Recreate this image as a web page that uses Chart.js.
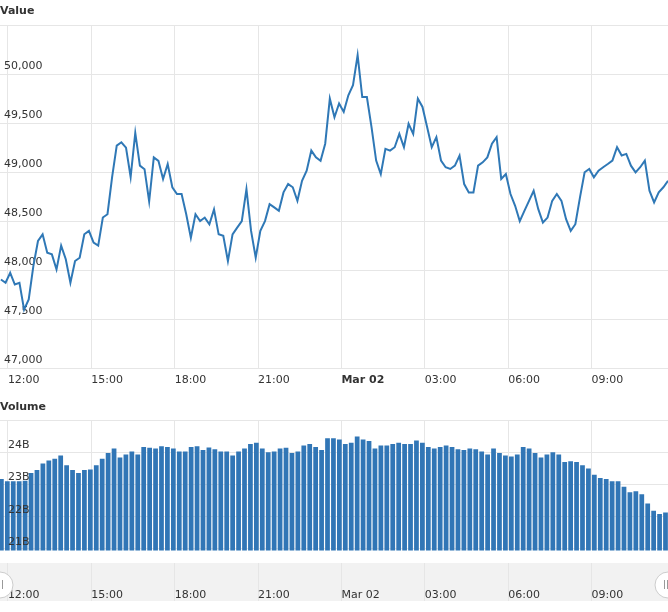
<!DOCTYPE html>
<html><head><meta charset="utf-8">
<script src="https://cdn.jsdelivr.net/npm/chart.js@4"></script>
<style>
body{margin:0;width:668px;height:612px;overflow:hidden;background:#fff;font-family:"DejaVu Sans",sans-serif}
.box{position:absolute;left:0;width:668px}
</style></head><body>
<div class="box" style="top:0;height:392px"><canvas id="c1"></canvas></div>
<div class="box" style="top:395px;height:170px"><canvas id="c2"></canvas></div>
<div class="box" style="top:563px;height:38px;background:#f2f2f2"><canvas id="c3"></canvas></div>
<script>
// minutes after 12:00 (Mar 01)
const priceStart = -15, priceStep = 10;
const priceValues = [47904,47870,47972,47852,47870,47596,47700,48040,48297,48365,48177,48160,48006,48250,48110,47870,48092,48126,48365,48400,48280,48250,48536,48570,48950,49270,49305,49250,48950,49400,49066,49030,48700,49150,49115,48930,49083,48845,48776,48776,48570,48330,48570,48500,48536,48468,48620,48365,48350,48092,48365,48433,48500,48827,48400,48126,48400,48500,48673,48640,48605,48793,48878,48845,48707,48912,49015,49220,49150,49115,49290,49750,49560,49700,49615,
49785,49887,50195,49767,49767,49460,49118,48980,49237,49220,49254,49390,49254,49494,49390,49750,49665,49460,49254,49357,49118,49050,49032,49066,49169,48878,48793,48793,49066,49100,49150,49290,49357,48930,48980,48776,48656,48500,48605,48707,48810,48622,48485,48536,48707,48776,48707,48520,48400,48468,48742,48998,49032,48947,49015,49050,49083,49118,49254,49169,49186,49066,48998,49050,49118,48810,48690,48793,48845,48912,49066];
const volumeStart = -14, volumeStep = 12.8;
const volumeValues = [23.17,23.1,23.1,23.1,23.12,23.36,23.45,23.65,23.75,23.8,23.9,23.6,23.45,23.36,23.45,23.47,23.6,23.8,23.98,24.12,23.84,23.93,24.03,23.93,24.17,24.14,24.12,24.19,24.17,24.12,24.03,24.03,24.17,24.19,24.07,24.15,24.1,24.03,24.03,23.9,24.03,24.12,24.26,24.3,24.12,24.0,24.03,24.12,24.14,23.98,24.03,24.21,24.26,24.17,24.07,24.44,24.44,24.4,24.26,24.3,24.49,24.4,24.35,24.12,24.21,24.21,24.26,24.3,24.26,24.26,24.37,24.3,24.17,24.12,24.17,24.21,24.17,24.1,24.07,24.12,24.1,24.03,23.93,24.12,23.98,23.9,23.87,23.93,24.17,24.12,23.98,23.84,23.93,24.0,23.93,23.7,23.72,23.7,23.6,23.5,23.3,23.2,23.17,23.1,23.1,22.93,22.76,22.79,22.7,22.41,22.18,22.08,22.13];
const tickMinutes = [0,180,360,540,720,900,1080,1260];
const tickLabels = ['12:00','15:00','18:00','21:00','Mar 02','03:00','06:00','09:00'];
const priceTicks = [47000,47500,48000,48500,49000,49500,50000,50500];
const volumeTicks = [21,22,23,24,25];

const priceData = priceValues.map((v,i)=>({x:priceStart+i*priceStep,y:v}));
const volumeData = volumeValues.map((v,i)=>({x:volumeStart+i*volumeStep,y:v}));
const FONT = "'DejaVu Sans', sans-serif";
const GRID = '#e6e6e6';
const XMIN=-17, XMAX=1425;
function xAxis(show, boldMar, tickLen){
  return {type:'linear',min:XMIN,max:XMAX,offset:false,
    afterBuildTicks:s=>{s.ticks=tickMinutes.map(v=>({value:v}));},
    grid:{color:GRID,drawTicks:!!tickLen,tickLength:tickLen||0,offset:false},border:{display:false},
    ticks:{display:show,align:'start',padding:tickLen?-12:6,color:'#333',
      font:c=>({family:FONT,size:11,weight:(boldMar&&c.index===4)?'bold':'normal'}),
      callback:(v,i)=>tickLabels[i]}};
}
Chart.defaults.animation=false;
Chart.defaults.font.family=FONT;
new Chart(document.getElementById('c1'),{
  type:'line',
  data:{datasets:[{data:priceData,borderColor:'#2f78b6',borderWidth:2,pointRadius:0,tension:0}]},
  options:{responsive:true,maintainAspectRatio:false,layout:{padding:0},
    plugins:{legend:{display:false},tooltip:{enabled:false},
      title:{display:true,text:'Value',align:'start',color:'#333',font:{size:11,weight:'bold'},padding:{top:5,bottom:7}}},
    scales:{
      x:Object.assign(xAxis(true,true,0),{afterFit:s=>{s.height=24;}}),
      y:{min:47000,max:50500,afterBuildTicks:s=>{s.ticks=priceTicks.map(v=>({value:v}));},
        afterFit:s=>{s.width=0;},
        grid:{color:GRID,drawTicks:false},border:{display:false},
        ticks:{mirror:true,padding:4,labelOffset:-8,color:'#333',font:{size:11},
          callback:v=>v===50500?'':v.toLocaleString('en-US')}}
    }}
});
new Chart(document.getElementById('c2'),{
  type:'bar',
  data:{datasets:[{data:volumeData,backgroundColor:'#3176b6',barPercentage:1,categoryPercentage:0.8}]},
  options:{responsive:true,maintainAspectRatio:false,layout:{padding:0},
    plugins:{legend:{display:false},tooltip:{enabled:false},
      title:{display:true,text:'Volume',align:'start',color:'#333',font:{size:11,weight:'bold'},padding:{top:6,bottom:6}}},
    scales:{
      x:Object.assign(xAxis(false,false,0),{afterFit:s=>{s.height=4;}}),
      y:{min:20.95,max:25,afterBuildTicks:s=>{s.ticks=volumeTicks.map(v=>({value:v}));},
        afterFit:s=>{s.width=0;},
        grid:{color:GRID,drawTicks:false},border:{display:false},
        ticks:{mirror:true,padding:8,labelOffset:-7,color:'#333',font:{size:11},z:1,
          callback:v=>v===25?'':v+'B'}}
    }}
});
const handles={id:'handles',afterDraw(c){const g=c.ctx;g.save();
  [0,668].forEach(x=>{g.beginPath();g.arc(x,22,13,0,Math.PI*2);g.fillStyle='#fff';g.fill();g.strokeStyle='#ccc';g.lineWidth=1;g.stroke();
   g.fillStyle='#999';g.fillRect(x-3+(x?-1:2),17,1,9);g.fillRect(x+(x?-1:2),17,1,9);});
  g.restore();}};
new Chart(document.getElementById('c3'),{
  type:'line',data:{datasets:[{data:[]}]},plugins:[handles],
  options:{responsive:true,maintainAspectRatio:false,layout:{padding:0},
    plugins:{legend:{display:false},tooltip:{enabled:false}},
    scales:{
      x:Object.assign(xAxis(true,false,16),{afterFit:s=>{s.height=16;}}),
      y:{display:false,min:0,max:1}
    }}
});
</script>
</body></html>
